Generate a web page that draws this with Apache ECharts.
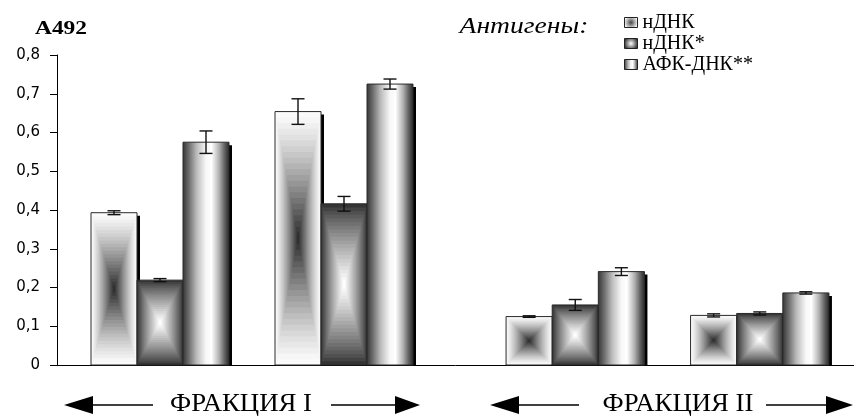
<!DOCTYPE html>
<html>
<head>
<meta charset="utf-8">
<script src="https://cdn.jsdelivr.net/npm/echarts@6/dist/echarts.min.js"></script>
<style>
  html, body { margin: 0; padding: 0; background: #fff; }
  #chart { width: 854px; height: 416px; }
</style>
</head>
<body>
<div id="chart"></div>
<script>
// --- data ---
const seriesNames = ['нДНК', 'нДНК*', 'АФК-ДНК**'];
const fractionLabels = ['ФРАКЦИЯ I', 'ФРАКЦИЯ II'];
const groupsI = ['I-1', 'I-2'];
const groupsII = ['II-1', 'II-2'];
// order: fraction I (2 groups), fraction II (2 groups)
const ndna = [0.393, 0.654, 0.125, 0.128];
const ndnaErr = [0.005, 0.033, 0.002, 0.004];
const ndnaStar = [0.219, 0.416, 0.155, 0.133];
const ndnaStarErr = [0.004, 0.019, 0.014, 0.004];
const afk = [0.575, 0.725, 0.241, 0.186];
const afkErr = [0.029, 0.013, 0.010, 0.003];

const values = [ndna, ndnaStar, afk];
const errors = [ndnaErr, ndnaStarErr, afkErr];

const chart = echarts.init(document.getElementById('chart'));

function gray(a, b, t) {
  const g = Math.round(a + (b - a) * t);
  return 'rgb(' + g + ',' + g + ',' + g + ')';
}

// Excel "from center" rectangular gradient, done with nested rects
function boxFill(edge, center, gamma) {
  return function (x, y, w, h) {
    const steps = 22;
    const out = [];
    for (let k = 0; k < steps; k++) {
      const t = 1 - k / steps;
      out.push({
        type: 'rect',
        shape: { x: x + w / 2 * (1 - t), y: y + h / 2 * (1 - t), width: w * t, height: h * t },
        style: { fill: gray(edge, center, Math.pow(k / (steps - 1), gamma)) }
      });
    }
    return out;
  };
}

const cylinder = {
  type: 'linear', x: 0, y: 0, x2: 1, y2: 0,
  colorStops: [
    { offset: 0, color: '#383838' },
    { offset: 0.12, color: '#6a6a6a' },
    { offset: 0.3, color: '#bcbcbc' },
    { offset: 0.5, color: '#f8f8f8' },
    { offset: 0.62, color: '#ffffff' },
    { offset: 0.78, color: '#b4b4b4' },
    { offset: 0.92, color: '#585858' },
    { offset: 1, color: '#2c2c2c' }
  ]
};

function cylinderFill(x, y, w, h) {
  return [{ type: 'rect', shape: { x: x, y: y, width: w, height: h }, style: { fill: cylinder } }];
}

const fills = [boxFill(250, 48, 1.25), boxFill(52, 255, 0.85), cylinderFill];

const legendStyles = [
  { color: { type: 'radial', x: 0.5, y: 0.5, r: 0.6, colorStops: [{ offset: 0, color: '#444' }, { offset: 1, color: '#f4f4f4' }] }, borderColor: '#222', borderWidth: 1 },
  { color: { type: 'radial', x: 0.5, y: 0.5, r: 0.6, colorStops: [{ offset: 0, color: '#fff' }, { offset: 1, color: '#3a3a3a' }] }, borderColor: '#222', borderWidth: 1 },
  { color: cylinder, borderColor: '#222', borderWidth: 1 }
];

const BAR_SHARE = 0.25; // bar width as part of the category band

function makeRender(pos) {
  return function (params, api) {
    const i = api.value(0);
    const v = api.value(1);
    const e = api.value(2);
    const base = api.coord([i, 0]);
    const top = api.coord([i, v]);
    const bw = api.size([1, 0])[0] * BAR_SHARE;
    const x = base[0] + (pos - 1) * bw - bw / 2;
    const y = top[1];
    const h = base[1] - top[1];
    const children = [];
    // hard drop shadow
    children.push({
      type: 'rect',
      shape: { x: x + 3, y: y + 3, width: bw, height: Math.max(h - 3, 0) },
      style: { fill: '#000' }
    });
    fills[pos](x, y, bw, h).forEach(function (r) { children.push(r); });
    children.push({
      type: 'rect',
      shape: { x: x, y: y, width: bw, height: h },
      style: { fill: 'none', stroke: '#2a2a2a', lineWidth: 1 }
    });
    // error bar
    const cx = x + bw / 2;
    const y1 = api.coord([i, v + e])[1];
    const y2 = api.coord([i, v - e])[1];
    const capStyle = { stroke: '#111', lineWidth: 1.4 };
    children.push({ type: 'line', shape: { x1: cx, y1: y1, x2: cx, y2: y2 }, style: capStyle });
    children.push({ type: 'line', shape: { x1: cx - 6.5, y1: y1, x2: cx + 6.5, y2: y1 }, style: capStyle });
    children.push({ type: 'line', shape: { x1: cx - 6.5, y1: y2, x2: cx + 6.5, y2: y2 }, style: capStyle });
    return { type: 'group', children: children };
  };
}

const series = [];
[0, 1].forEach(function (frac) {
  seriesNames.forEach(function (name, s) {
    const data = [0, 1].map(function (g) {
      const idx = frac * 2 + g;
      return [g, values[s][idx], errors[s][idx]];
    });
    series.push({
      type: 'custom',
      name: name,
      xAxisIndex: frac + 1,
      yAxisIndex: frac + 1,
      itemStyle: legendStyles[s],
      renderItem: makeRender(s),
      data: data
    });
  });
});

const TOP = 55, BOTTOM = 51;

function arrow(tipX, baseX, lineEnd, y) {
  return [
    { type: 'polygon', shape: { points: [[tipX, y], [baseX, y - 9], [baseX, y + 9]] }, style: { fill: '#000' } },
    { type: 'line', shape: { x1: baseX, y1: y, x2: lineEnd, y2: y }, style: { stroke: '#000', lineWidth: 1.6 } }
  ];
}

function label(text, x, y, size, scaleX, extra) {
  return {
    type: 'text', x: x, y: y, scaleX: scaleX,
    style: Object.assign({
      text: text, fill: '#000', fontFamily: 'Liberation Serif', fontSize: size,
      align: 'center', verticalAlign: 'middle', textAlign: 'center', textVerticalAlign: 'middle'
    }, extra || {})
  };
}

const option = {
  animation: false,
  grid: [
    { left: 57, right: 0, top: TOP, bottom: BOTTOM },
    { left: 68, width: 368, top: TOP, bottom: BOTTOM },
    { left: 483, width: 369, top: TOP, bottom: BOTTOM }
  ],
  xAxis: [
    { gridIndex: 0, type: 'value', min: 0, max: 1, axisLine: { show: true, onZero: false, lineStyle: { color: '#000', width: 1 } },
      axisTick: { show: false }, axisLabel: { show: false }, splitLine: { show: false } },
    { gridIndex: 1, type: 'category', data: groupsI, show: false },
    { gridIndex: 2, type: 'category', data: groupsII, show: false }
  ],
  yAxis: [
    { gridIndex: 0, type: 'value', min: 0, max: 0.8, interval: 0.1,
      axisLine: { show: true, lineStyle: { color: '#000', width: 1 } },
      axisTick: { show: true, length: 7, lineStyle: { color: '#000' } },
      splitLine: { show: false },
      axisLabel: { color: '#000', fontFamily: 'DejaVu Sans', fontSize: 15, margin: 17,
        formatter: function (v) { return v === 0 ? '0' : v.toFixed(1).replace('.', ','); } } },
    { gridIndex: 1, type: 'value', min: 0, max: 0.8, show: false },
    { gridIndex: 2, type: 'value', min: 0, max: 0.8, show: false }
  ],
  legend: {
    orient: 'vertical', left: 619, top: 7, icon: 'rect',
    itemWidth: 13, itemHeight: 10, itemGap: 0,
    textStyle: { fontFamily: 'Liberation Serif', fontSize: 20, color: '#000', lineHeight: 21 },
    data: seriesNames.map(function (n, k) { return { name: n, itemStyle: legendStyles[k] }; })
  },
  graphic: [
    label('A492', 61, 29, 18, 1.3, { fontWeight: 'bold' }),
    label('Антигены:', 524, 27, 23, 1.2, { fontStyle: 'italic' }),
    label(fractionLabels[0], 241, 404, 26, 1.03),
    label(fractionLabels[1], 678, 404, 26, 1.03)
  ].concat(
    arrow(64, 93, 153, 405), arrow(420, 395, 331, 405),
    arrow(490, 519, 579, 405), arrow(853, 826, 766, 405)
  ),
  series: series
};

chart.setOption(option);
</script>
</body>
</html>
